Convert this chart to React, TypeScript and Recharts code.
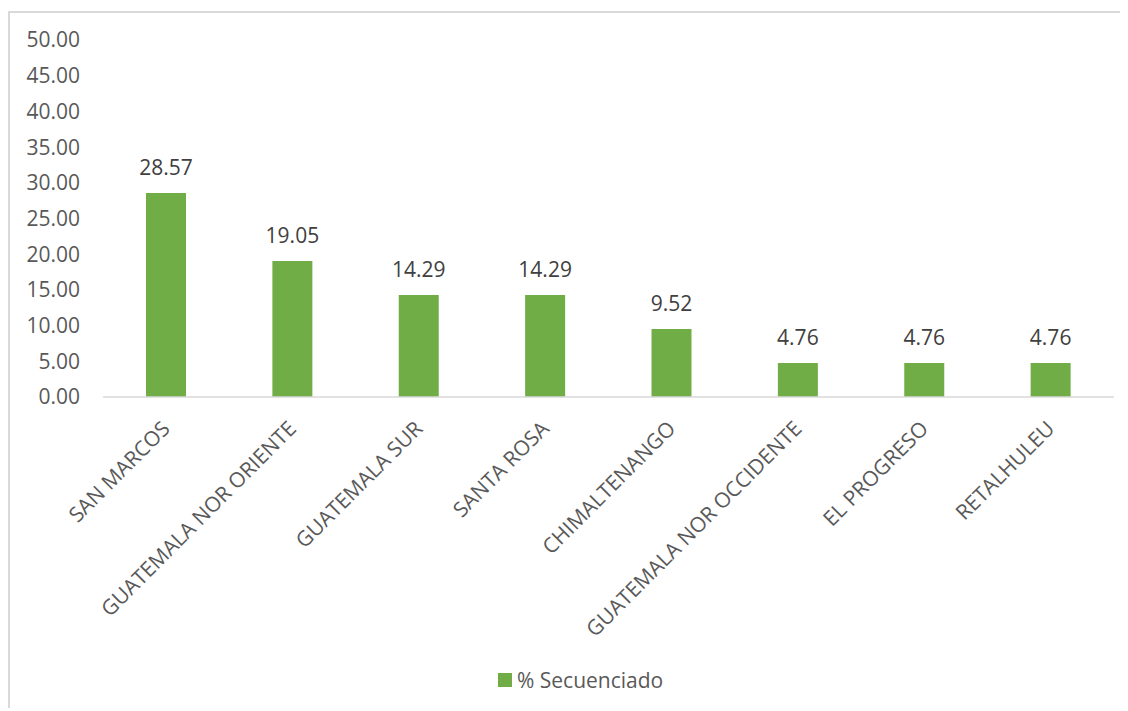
import React from 'react';
import { BarChart, Bar, XAxis, YAxis, Legend, LabelList } from 'recharts';

const categories = [
  'SAN MARCOS',
  'GUATEMALA NOR ORIENTE',
  'GUATEMALA SUR',
  'SANTA ROSA',
  'CHIMALTENANGO',
  'GUATEMALA NOR OCCIDENTE',
  'EL PROGRESO',
  'RETALHULEU',
];
const secuenciado = [28.57, 19.05, 14.29, 14.29, 9.52, 4.76, 4.76, 4.76];
const yTicks = [0, 5, 10, 15, 20, 25, 30, 35, 40, 45, 50];
const boundaryTicks = [0, 1, 2, 3, 4, 5, 6, 7, 8];
const seriesName = '% Secuenciado';

const data = categories.map((c, i) => ({ name: c, value: secuenciado[i] }));

const FONT = '"Open Sans", sans-serif';
const FS = 21;
const GREEN = '#70AD47';

const CatTick = (props: any) => {
  const { x, y, payload } = props;
  const tx = x + 5;
  const ty = y + 32;
  return (
    <text
      x={tx}
      y={ty}
      transform={`rotate(-45, ${tx}, ${ty})`}
      textAnchor="end"
      fill="#595959"
      fontSize={FS}
      fontFamily={FONT}
    >
      {payload.value}
    </text>
  );
};

const LegendContent = () => (
  <div
    style={{
      height: 30,
      display: 'flex',
      alignItems: 'center',
      justifyContent: 'flex-start',
      paddingLeft: 490,
      boxSizing: 'border-box',
      fontFamily: FONT,
      fontSize: FS,
      color: '#595959',
    }}
  >
    <span style={{ width: 14, height: 14, background: GREEN, marginRight: 5, display: 'inline-block' }} />
    <span>{seriesName}</span>
  </div>
);

export default function App() {
  return (
    <div style={{ position: 'relative', width: 1112, height: 700, fontFamily: FONT }}>
      <div
        style={{
          position: 'absolute',
          left: 0,
          top: 3,
          width: 1112,
          height: 697,
          borderTop: '2px solid #d9d9d9',
          borderLeft: '2px solid #d9d9d9',
          boxSizing: 'border-box',
        }}
      />
      <div style={{ position: 'absolute', left: 0, top: 0 }}>
        <BarChart width={1112} height={700} data={data} margin={{ top: 32, right: 6, left: 0, bottom: 0 }}>
          <XAxis
            xAxisId="b_cat"
            dataKey="name"
            interval={0}
            height={280}
            axisLine={false}
            tickLine={false}
            tickSize={0}
            tickMargin={0}
            tick={<CatTick />}
          />
          <XAxis
            xAxisId="a_grid"
            type="number"
            domain={[0, 8]}
            ticks={boundaryTicks}
            allowDataOverflow
            height={1}
            tick={false}
            tickSize={7}
            axisLine={{ stroke: '#d9d9d9', strokeWidth: 1.5 }}
            tickLine={{ stroke: '#d9d9d9', strokeWidth: 1.5 }}
          />
          <YAxis
            width={95}
            domain={[0, 50]}
            ticks={yTicks}
            axisLine={false}
            tickLine={false}
            tickSize={0}
            tickMargin={23}
            tickFormatter={(v: number) => v.toFixed(2)}
            tick={{ fill: '#595959', fontSize: FS, fontFamily: FONT }}
          />
          <Legend
            verticalAlign="bottom"
            height={30}
            content={<LegendContent />}
            wrapperStyle={{ top: 657, left: 0, width: 1112 }}
          />
          <Bar
            xAxisId="b_cat"
            dataKey="value"
            name={seriesName}
            fill={GREEN}
            barSize={40}
            isAnimationActive={false}
          >
            <LabelList
              dataKey="value"
              position="top"
              offset={18}
              fill="#404040"
              fontSize={FS}
              fontFamily={FONT}
              formatter={(v: any) => Number(v).toFixed(2)}
            />
          </Bar>
        </BarChart>
      </div>
    </div>
  );
}
